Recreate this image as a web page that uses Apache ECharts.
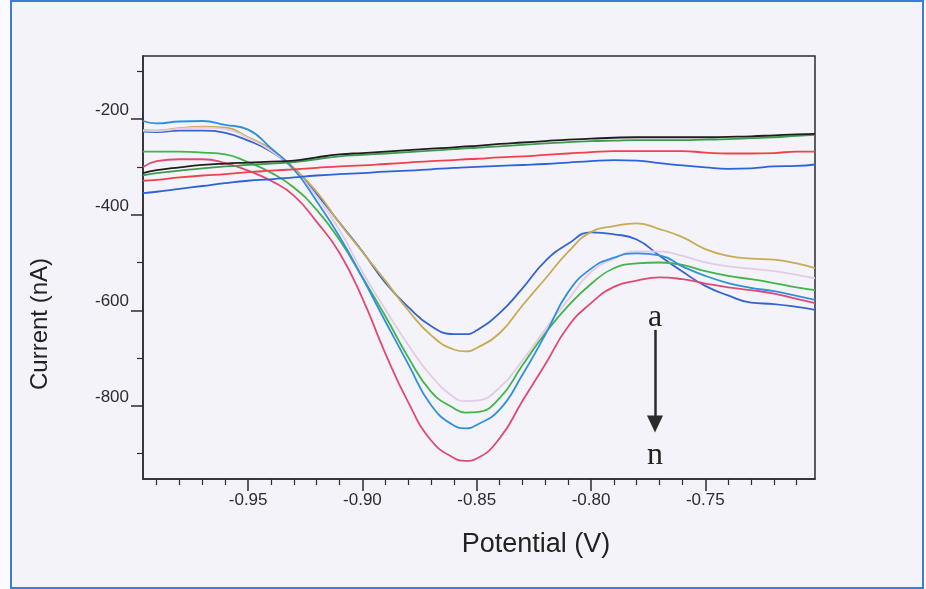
<!DOCTYPE html>
<html><head><meta charset="utf-8">
<script src="https://cdn.jsdelivr.net/npm/echarts@6/dist/echarts.min.js"></script>
<style>html,body{margin:0;padding:0;background:#fbfbfd}#c{width:926px;height:589px}</style>
</head><body><div id="c"></div>
<script>
// Potential (V) sample points
const potentials = [-0.996,-0.99,-0.98,-0.97,-0.96,-0.95,-0.94,-0.93,-0.92,-0.91,-0.90,-0.89,-0.88,-0.87,-0.86,-0.855,-0.85,-0.84,-0.83,-0.82,-0.81,-0.80,-0.79,-0.78,-0.77,-0.76,-0.75,-0.74,-0.73,-0.72,-0.71,-0.702];

// Peak curves (a -> n), current in nA
const curveBlue     = [-226,-227,-224,-224,-229,-245,-268,-305,-357,-417,-477,-542,-593,-633,-650,-650,-642,-606,-554,-497,-461,-437,-441,-452,-486,-519,-549,-569,-584,-587,-593,-599];
const curveGold     = [-223,-224,-219,-216,-218,-238,-263,-302,-352,-418,-478,-538,-600,-652,-682,-686,-679,-648,-590,-534,-478,-436,-424,-418,-430,-447,-472,-486,-492,-494,-502,-512];
const curveLavender = [-224,-225,-220,-218,-221,-240,-266,-306,-362,-432,-520,-598,-672,-737,-782,-790,-789,-762,-705,-640,-578,-520,-492,-477,-477,-486,-500,-508,-513,-518,-526,-533];
const curveGreen    = [-268,-268,-268,-270,-274,-290,-312,-343,-390,-453,-531,-612,-698,-770,-805,-814,-813,-784,-715,-648,-591,-545,-512,-502,-500,-505,-518,-528,-535,-543,-552,-558];
const curveSky      = [-204,-209,-205,-204,-212,-222,-261,-305,-372,-446,-532,-623,-712,-798,-841,-847,-840,-808,-735,-651,-562,-513,-490,-481,-485,-508,-528,-543,-553,-560,-570,-578];
const curveCrimson  = [-300,-288,-284,-284,-292,-308,-329,-360,-415,-480,-575,-690,-792,-872,-909,-915,-910,-868,-790,-713,-634,-585,-551,-538,-531,-535,-544,-552,-558,-565,-576,-585];

// Baseline (background) curves
const baseBlack = [-313,-307,-301,-296,-293,-291,-289,-287,-280,-274,-271,-268,-265,-262,-259,-257,-256,-252,-249,-246,-243,-241,-239,-238,-238,-238,-238,-237,-236,-234,-232,-231];
const baseGreen = [-318,-313,-308,-303,-299,-296,-293,-290,-284,-278,-275,-272,-269,-266,-263,-261,-260,-257,-254,-251,-248,-246,-245,-244,-244,-244,-243,-242,-240,-238,-235,-233];
const baseRed   = [-329,-327,-322,-318,-315,-311,-308,-305,-302,-299,-297,-294,-291,-288,-286,-284,-283,-280,-278,-275,-272,-269,-267,-267,-267,-267,-270,-272,-272,-271,-268,-268];
const baseBlue  = [-355,-352,-346,-340,-334,-329,-326,-322,-318,-315,-313,-310,-308,-305,-302,-301,-300,-298,-296,-294,-291,-288,-286,-287,-292,-297,-301,-304,-303,-299,-298,-295];

// Axis ticks
const xMajorTicks = [-0.95,-0.90,-0.85,-0.80,-0.75];
const xMinorTicks = [-0.99,-0.98,-0.97,-0.96,-0.94,-0.93,-0.92,-0.91,-0.89,-0.88,-0.87,-0.86,-0.84,-0.83,-0.82,-0.81,-0.79,-0.78,-0.77,-0.76,-0.74,-0.73,-0.72,-0.71];
const yMajorTicks = [-200,-400,-600,-800];
const yMinorTicks = [-100,-300,-500,-700,-900];

// Annotation (data coords)
const arrowX = -0.772, arrowFrom = -641, arrowTo = -838;
const labelA = -615, labelN = -905;

const zip = arr => potentials.map((x,i)=>[x, arr[i]]);
const chart = echarts.init(document.getElementById('c'), null, {renderer:'canvas'});

const peakSeries = [
  ['a', curveBlue, '#3563cf'],
  ['b', curveGold, '#c9ab55'],
  ['c', curveLavender, '#e3cbe8'],
  ['d', curveGreen, '#43b449'],
  ['e', curveSky, '#3190de'],
  ['n', curveCrimson, '#e04a72']
];
const baseSeries = [
  ['blank blue', baseBlue, '#2c64d8'],
  ['blank red', baseRed, '#f2404c'],
  ['blank green', baseGreen, '#3f9a4d'],
  ['blank black', baseBlack, '#1e1e1e']
];
const mk = (s, z) => ({
  name: s[0], type:'line', data: zip(s[1]), smooth: 0.5, showSymbol:false, symbol:'none',
  lineStyle:{color:s[2], width:1.8}, itemStyle:{color:s[2]}, z:z, silent:true, animation:false
});

const axisCol = '#2b2b35';
chart.setOption({
  animation:false,
  backgroundColor:'transparent',
  grid:{left:143, right:111, top:56, bottom:110, show:true, borderColor:axisCol, borderWidth:1.5, backgroundColor:'transparent'},
  xAxis:[{
    type:'value', min:-0.996, max:-0.702, position:'bottom',
    axisLine:{show:true, onZero:false, lineStyle:{color:axisCol, width:1.5}},
    axisTick:{show:true, inside:false, length:12, customValues:xMajorTicks, lineStyle:{color:axisCol, width:1.5}},
    axisLabel:{show:true, customValues:xMajorTicks, formatter:v=>v.toFixed(2), fontFamily:'Liberation Sans, Arial, sans-serif', fontSize:17, color:axisCol, margin:13},
    splitLine:{show:false}
  },{
    type:'value', min:-0.996, max:-0.702, position:'bottom',
    axisLine:{show:false, onZero:false},
    axisTick:{show:true, inside:false, length:6, customValues:xMinorTicks, lineStyle:{color:axisCol, width:1.2}},
    axisLabel:{show:false}, splitLine:{show:false}
  }],
  yAxis:[{
    type:'value', min:-953, max:-68, position:'left',
    axisLine:{show:true, onZero:false, lineStyle:{color:axisCol, width:1.5}},
    axisTick:{show:true, inside:false, length:12, customValues:yMajorTicks, lineStyle:{color:axisCol, width:1.5}},
    axisLabel:{show:true, customValues:yMajorTicks, fontFamily:'Liberation Sans, Arial, sans-serif', fontSize:17, color:axisCol, margin:14, verticalAlign:'bottom'},
    splitLine:{show:false}
  },{
    type:'value', min:-953, max:-68, position:'left',
    axisLine:{show:false, onZero:false},
    axisTick:{show:true, inside:false, length:6, customValues:yMinorTicks, lineStyle:{color:axisCol, width:1.2}},
    axisLabel:{show:false}, splitLine:{show:false}
  }],
  series: peakSeries.map(s=>mk(s,3)).concat(baseSeries.map(s=>mk(s,4))).concat([{
    name:'arrow', type:'line', data:[], silent:true, z:5,
    markLine:{silent:true, symbol:['none','triangle'], symbolSize:[16,17], animation:false,
      lineStyle:{color:'#2b2b2b', width:2.5, type:'solid'}, label:{show:false},
      data:[[{coord:[arrowX, arrowFrom]},{coord:[arrowX, arrowTo]}]]}
  }])
});

const pa = chart.convertToPixel({gridIndex:0}, [arrowX, labelA]);
const pn = chart.convertToPixel({gridIndex:0}, [arrowX, labelN]);
chart.setOption({
  graphic:[
    {type:'rect', z:-10, silent:true, shape:{x:11, y:1, width:912, height:587},
      style:{fill:'#f3f3f9', stroke:'#3b7dd8', lineWidth:2}},
    {type:'text', silent:true, x:536, y:545, style:{text:'Potential (V)', fontFamily:'Liberation Sans, Arial, sans-serif', fontSize:27, fill:'#222', align:'center', verticalAlign:'middle'}},
    {type:'text', silent:true, x:40, y:324, rotation:Math.PI/2, style:{text:'Current (nA)', fontFamily:'Liberation Sans, Arial, sans-serif', fontSize:24, fill:'#222', align:'center', verticalAlign:'middle'}},
    {type:'text', silent:true, x:pa[0], y:pa[1], style:{text:'a', fontFamily:'Liberation Serif, Times New Roman, serif', fontSize:32, fill:'#222', align:'center', verticalAlign:'middle'}},
    {type:'text', silent:true, x:pn[0], y:pn[1], style:{text:'n', fontFamily:'Liberation Serif, Times New Roman, serif', fontSize:32, fill:'#222', align:'center', verticalAlign:'middle'}}
  ]
});
</script></body></html>
